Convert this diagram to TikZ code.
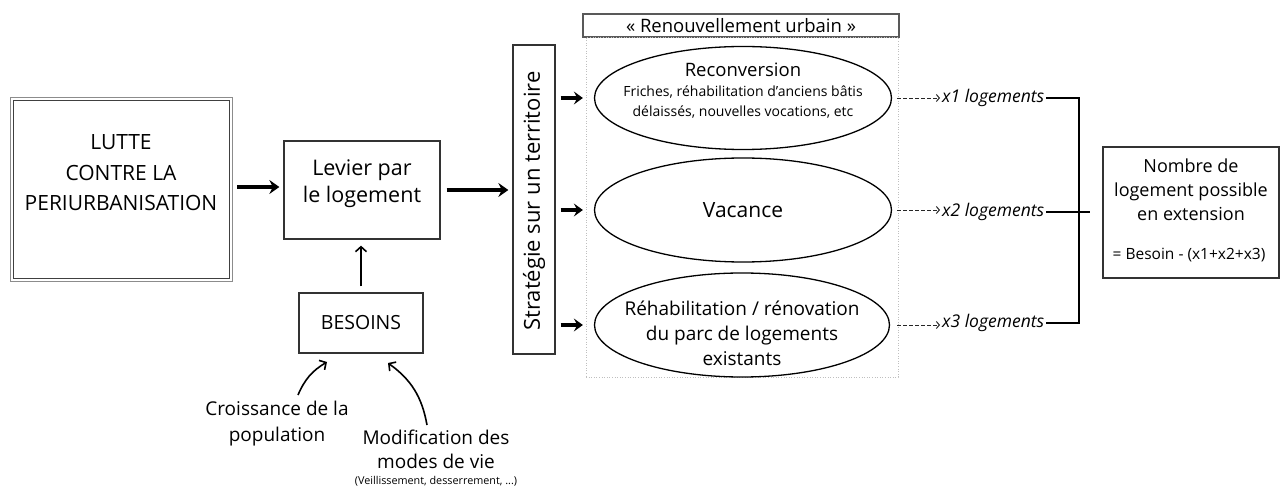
\documentclass[tikz,border=0pt]{standalone}
\usepackage{fontspec}
\setmainfont{Open Sans}
\usetikzlibrary{arrows.meta,shapes.geometric}
\begin{document}
\begin{tikzpicture}[x=1pt,y=-1pt,
  box/.style={draw=black!80,line width=1.3pt,rectangle,inner sep=0pt},
  oval/.style={draw=black,line width=1.3pt,ellipse,inner sep=0pt},
  txt/.style={inner sep=0pt,align=center},
  bigarrow/.style={line width=3.4pt,-{Stealth[length=10pt,width=14pt,inset=3.5pt]}},
  smallarrow/.style={line width=3.2pt,-{Stealth[length=9pt,width=13pt,inset=3.5pt]}},
  thinarrow/.style={line width=1.6pt,-{Straight Barb[length=5pt,width=11pt,line width=1.6pt]}},
  dasharrow/.style={line width=0.9pt,dash pattern=on 3.5pt off 2.5pt,black!85,-{Straight Barb[length=3pt,width=7pt,line width=1pt]}},
  bracket/.style={line width=2.6pt},
  xlab/.style={inner sep=0pt,anchor=west,font=\fontsize{17.5}{20}\selectfont\itshape}
]
\useasboundingbox (0,0) rectangle (1283,489);

% Lutte
\node[box,draw=black!45,line width=0.9pt,minimum width=222,minimum height=184] (lutte) at (121,189) {};
\node[box,draw=black!75,line width=0.9pt,minimum width=216,minimum height=178] (lutteIn) at (121,189) {};
\node[txt,font=\fontsize{21}{30.5}\selectfont] (lutteTxt) at (121,173) {LUTTE\\CONTRE LA\\PERIURBANISATION};

% Levier
\node[box,minimum width=156,minimum height=98] (levier) at (362,190) {};
\node[txt,font=\fontsize{21.5}{27}\selectfont] (levierTxt) at (362,184) {Levier par\\le logement};

% Besoins
\node[box,minimum width=124,minimum height=60,font=\fontsize{19.5}{22}\selectfont] (besoins) at (361,323) {BESOINS};

% Croissance / Modification
\node[txt,font=\fontsize{19}{26}\selectfont] (croiss) at (277,424) {Croissance de la\\population};
\node[txt,font=\fontsize{19}{24}\selectfont] (modif) at (436,449) {Modification des\\modes de vie};
\node[txt,font=\fontsize{10.8}{13}\selectfont] (veill) at (436,481) {(Veillissement, desserrement, ...)};

% Strategie
\node[box,minimum width=42,minimum height=309] (strat) at (534,199.5) {};
\node[txt,rotate=90,font=\fontsize{22}{24}\selectfont] (stratTxt) at (534,201) {Stratégie sur un territoire};

% Renouvellement
\node[box,draw=black!65,line width=1.1pt,minimum width=316,minimum height=23,font=\fontsize{18.5}{20}\selectfont] (renouv) at (741,25.5) {« Renouvellement urbain »};
\node[draw=black!25,dotted,line width=0.6pt,rectangle,minimum width=312,minimum height=340,inner sep=0pt] (zone) at (742,207) {};

% Ellipses
\node[oval,minimum width=297,minimum height=103] (rec) at (743,98) {};
\node[txt,font=\fontsize{18.5}{22}\selectfont] (recT) at (743,70) {Reconversion};
\node[txt,font=\fontsize{14}{20}\selectfont] (recS) at (743,102) {Friches, réhabilitation d’anciens bâtis\\délaissés, nouvelles vocations, etc};
\node[oval,minimum width=297,minimum height=104,font=\fontsize{21}{26}\selectfont] (vac) at (743,210) {Vacance};
\node[oval,minimum width=295,minimum height=104] (reh) at (742,325) {};
\node[txt,font=\fontsize{19}{25}\selectfont] (rehT) at (742,333) {Réhabilitation / rénovation\\du parc de logements\\existants};

% x labels
\node[xlab] (x1) at (942,98) {x1 logements};
\node[xlab] (x2) at (942,212) {x2 logements};
\node[xlab] (x3) at (942,323) {x3 logements};

% Result box
\node[box,minimum width=176,minimum height=131] (nb) at (1191,212.5) {};
\node[txt,font=\fontsize{18}{24}\selectfont] (nbTxt) at (1191,189.5) {Nombre de\\logement possible\\en extension};
\node[txt,font=\fontsize{15.5}{20}\selectfont] (nbF) at (1189,255) {= Besoin - (x1+x2+x3)};

% arrows
\draw[bigarrow,shorten <=5pt,shorten >=4pt] (lutte.east |- 0,187) coordinate (a1) -- (levier.west |- a1);
\draw[bigarrow,shorten <=6pt,shorten >=4pt] (levier.east) -- (strat.west |- levier.east);
\draw[thinarrow,shorten <=6pt,shorten >=6pt] (besoins.north) -- (besoins.north |- levier.south);
\coordinate (c1a) at (298,395);
\coordinate (c1b) at (327,362);
\coordinate (c2a) at (427,425);
\coordinate (c2b) at (388,363);
\draw[thinarrow] (c1a) to[bend left=18] (c1b);
\draw[thinarrow] (c2a) to[bend right=22] (c2b);

\foreach \e in {rec,vac,reh}{
  \draw[smallarrow,shorten <=5pt,shorten >=11pt] (strat.east |- \e.west) -- (\e.west);
}
\draw[dasharrow,shorten <=5pt,shorten >=2pt] (rec.east) -- (x1.west);
\draw[dasharrow,shorten <=5pt,shorten >=2pt] (vac.east) -- (x2.west |- vac.east);
\draw[dasharrow,shorten <=7pt,shorten >=2pt] (reh.east) -- (x3.west |- reh.east);

\coordinate (bt) at (1079,98);
\coordinate (bb) at (1079,323);
\coordinate (bm) at (1090,212);
\draw[bracket] ([xshift=2pt]x1.east) -- (bt) -- (bb) -- ([xshift=2pt]x3.east);
\draw[bracket] ([xshift=2pt]x2.east) -- (bm);
\end{tikzpicture}
\end{document}
